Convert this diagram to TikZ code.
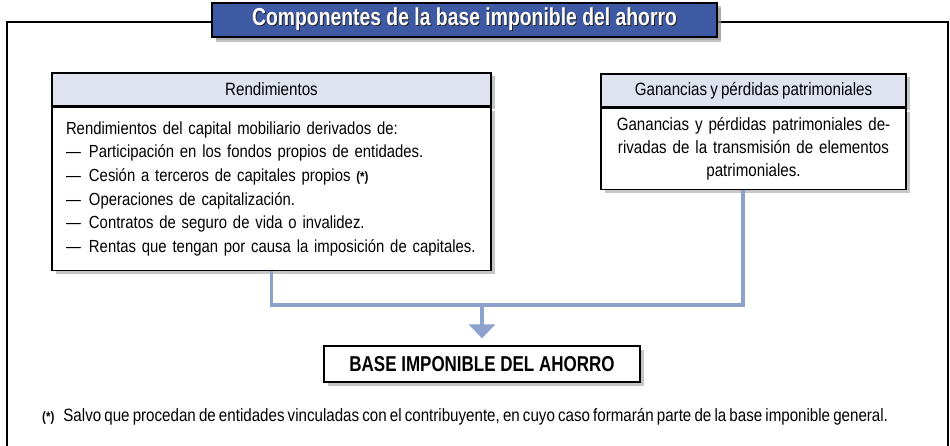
\documentclass[tikz,border=0pt]{standalone}
\usepackage{fontspec}
\setmainfont{Liberation Sans}[FakeStretch=0.85,WordSpace=0.75]
\newfontfamily\condfont{Liberation Sans}[FakeStretch=0.79]
\usetikzlibrary{arrows.meta,shadows}
\definecolor{titleblue}{HTML}{3F5AA5}
\definecolor{hdrfill}{HTML}{DFE3F0}
\definecolor{connblue}{HTML}{8DA1CD}
\tikzset{
  shad/.style={drop shadow={shadow xshift=3.5pt,shadow yshift=-3.5pt,fill=black!45}},
  box/.style={draw=black,line width=1.3pt,inner sep=0pt,fill=white,shad},
  hdr/.style={box,fill=hdrfill,minimum height=33pt,font=\fontsize{17.8}{20}\selectfont},
  conn/.style={draw=connblue,line width=3.5pt},
}
\newcommand{\itm}{\makebox[23pt][l]{---}}
\newcommand{\astm}{{\bfseries\fontsize{13.6}{13}\selectfont(*)}}
\begin{document}
\begin{tikzpicture}[x=1pt,y=-1pt]
\useasboundingbox (0,0) rectangle (950,446);
% outer frame
\draw[line width=2.5pt] (7,450) -- (7,22) -- (948,22) -- (948,450);
% title
\node[box,fill=titleblue,minimum width=505pt,minimum height=34pt,
  drop shadow={shadow xshift=4pt,shadow yshift=-5pt,fill=black!45},
  text=white,font=\condfont\bfseries\fontsize{24.5}{27}\selectfont] (title) at (464.5,20)
  {\rlap{\kern1pt\raisebox{-1pt}{\color{black!85}Componentes de la base imponible del ahorro}}Componentes de la base imponible del ahorro};
% Rendimientos
\node[hdr,minimum width=439pt] (rh) at (271.5,89.5) {Rendimientos};
\node[box,anchor=north,minimum width=439pt,minimum height=163pt,text width=411pt,
  align=left,font=\fontsize{17.5}{23.6}\selectfont] (rb) at (rh.south)
  {Rendimientos del capital mobiliario derivados de:\\
   \itm Participación en los fondos propios de entidades.\\
   \itm Cesión a terceros de capitales propios \astm\\
   \itm Operaciones de capitalización.\\
   \itm Contratos de seguro de vida o invalidez.\\
   \mbox{\itm Rentas que tengan por causa la imposición de capitales.}};
% Ganancias
\node[hdr,minimum width=305pt] (gh) at (753.5,90.5) {Ganancias y pérdidas patrimoniales};
\node[box,anchor=north,minimum width=305pt,minimum height=81pt,text width=295pt,
  align=center,font=\fontsize{17.8}{23}\selectfont] (gb) at (gh.south)
  {Ganancias y pérdidas patrimoniales de-\\
   rivadas de la transmisión de elementos\\
   patrimoniales.};
% base
\node[box,minimum width=316pt,minimum height=36pt,
  font=\condfont\bfseries\fontsize{21.5}{24}\selectfont] (base) at (482,364)
  {BASE IMPONIBLE DEL AHORRO};
% connectors
\coordinate (j) at (482,305);
\coordinate (jr) at (743,305);
\draw[conn] (rb.south) |- (jr) -- (jr |- gb.south);
\draw[conn,-{Triangle[width=26pt,length=14pt]},shorten >=7pt] (j) -- (base.north);
% footnote
\node[anchor=west,inner sep=0pt,font=\fontsize{17.8}{19}\selectfont] (note) at (42,417)
  {\astm\hspace{9pt}Salvo que procedan de entidades vinculadas con el contribuyente, en cuyo caso formarán parte de la base imponible general.};
\end{tikzpicture}
\end{document}
